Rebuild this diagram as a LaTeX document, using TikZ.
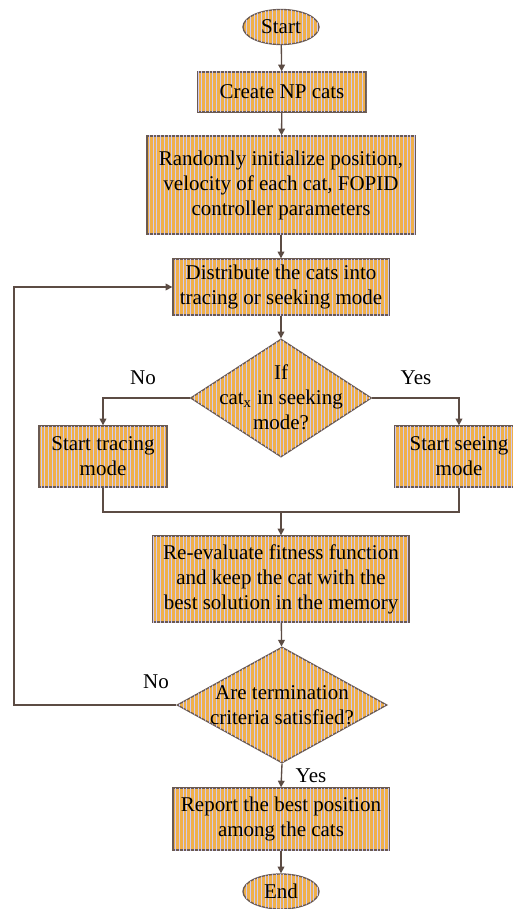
\documentclass[tikz,border=0pt]{standalone}
\usepackage{fontspec}
\setmainfont{Liberation Serif}
\usetikzlibrary{shapes.geometric,patterns.meta,arrows.meta}
\definecolor{boxfill}{HTML}{F0B04A}
\definecolor{stripe}{HTML}{CFCBF4}
\definecolor{edge}{HTML}{6A5A52}
\definecolor{wire}{HTML}{5C4C44}
\tikzset{
  base/.style={draw=edge, line width=1pt, fill=boxfill,
    postaction={pattern={Lines[angle=90,distance=2.8pt,line width=0.55pt]}, pattern color=stripe},
    inner sep=0pt, align=center, font=\fontsize{15.75}{18.75}\selectfont},
  procbox/.style={base, rectangle},
  term/.style={base, ellipse},
  decis/.style={base, diamond},
  txt/.style={inner sep=0pt, align=center, font=\fontsize{15.75}{18.75}\selectfont},
  lbl/.style={inner sep=0pt, font=\fontsize{15.75}{18.75}\selectfont},
  arr/.style={draw=wire, line width=1pt, -{Triangle[width=5pt,length=5pt]}},
  wireline/.style={draw=wire, line width=1pt},
}
\begin{document}
\begin{tikzpicture}[x=0.75pt,y=-0.75pt]
\useasboundingbox (0,0) rectangle (513,909);
\clip (0,0) rectangle (513,909);
\fill[white] (0,0) rectangle (513,909);

\node[term, minimum width=57pt, minimum height=26.25pt] (start) at (281,27) {Start};
\node[procbox, minimum width=126pt, minimum height=30pt] (create) at (282,92) {Create NP cats};
\node[procbox, minimum width=201pt, minimum height=73.5pt] (init) at (281,185)
  {Randomly initialize position,\\velocity of each cat, FOPID\\controller parameters};
\node[procbox, minimum width=162pt, minimum height=42pt] (dist) at (281,287)
  {Distribute the cats into\\tracing or seeking mode};
\node[decis, minimum width=135.75pt, minimum height=88.5pt] (dec1) at (281,398) {};
\node[txt] (dec1t) at (281,397) {If\\cat\textsubscript{x} in seeking\\mode?};
\node[procbox, minimum width=96pt, minimum height=45.75pt] (trace) at (103,456.5)
  {Start tracing\\mode};
\node[procbox, minimum width=96pt, minimum height=45.75pt] (seek) at (459,456.5)
  {Start seeing\\mode};
\node[procbox, minimum width=192pt, minimum height=64.5pt] (eval) at (281,579)
  {Re-evaluate fitness function\\and keep the cat with the\\best solution in the memory};
\node[decis, minimum width=157.5pt, minimum height=87pt] (dec2) at (282,705) {};
\node[txt] (dec2t) at (282,705) {Are termination\\criteria satisfied?};
\node[procbox, minimum width=162pt, minimum height=46.5pt] (report) at (281,819)
  {Report the best position\\among the cats};
\node[term, minimum width=57pt, minimum height=26.25pt] (end) at (281,891.5) {End};

\node[lbl] (no1) at (143,378) {No};
\node[lbl] (yes1) at (416,378) {Yes};
\node[lbl] (no2) at (156,682) {No};
\node[lbl] (yes2) at (311,776) {Yes};

\coordinate (merge) at (281,512);
\coordinate (loop) at (14,705);

\draw[arr] (start) -- (create);
\draw[arr] (create) -- (init);
\draw[arr] (init) -- (dist);
\draw[arr] (dist) -- (dec1);
\draw[arr] (dec1.west) -| (trace.north);
\draw[arr] (dec1.east) -| (seek.north);
\draw[wireline] (trace.south) |- (merge) -| (seek.south);
\draw[arr] (merge) -- (eval.north);
\draw[arr] (eval) -- (dec2);
\draw[arr] (dec2.west) -- (loop) |- (dist.west);
\draw[arr] (dec2.south) -- (report.north);
\draw[arr] (report) -- (end);
\end{tikzpicture}
\end{document}
